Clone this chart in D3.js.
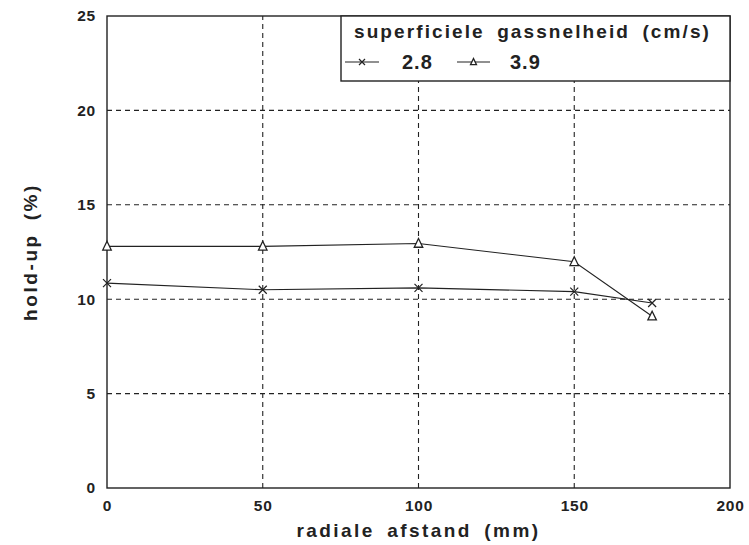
<!DOCTYPE html>
<html>
<head>
<meta charset="utf-8">
<script src="https://cdn.jsdelivr.net/npm/d3@7"></script>
<style>
  html, body { margin: 0; padding: 0; background: #fff; }
  text { font-family: "Liberation Sans", Arial, sans-serif; font-weight: bold; fill: #222; }
</style>
</head>
<body>
<svg id="chart" width="749" height="545"></svg>
<script>
// Radial positions (mm)
const radialPositions = [0, 50, 100, 150, 175];
// Hold-up (%) per superficial gas velocity
const holdup28 = [10.85, 10.5, 10.6, 10.4, 9.8];
const holdup39 = [12.8, 12.8, 12.95, 11.98, 9.1];
const seriesNames = ["2.8", "3.9"];
const xTicks = [0, 50, 100, 150, 200];
const yTicks = [0, 5, 10, 15, 20, 25];

const svg = d3.select("#chart");
const margin = { left: 107, right: 19, top: 16, bottom: 57 };
const W = 749, H = 545;

const x = d3.scaleLinear().domain([0, 200]).range([margin.left, W - margin.right]);
const y = d3.scaleLinear().domain([0, 25]).range([H - margin.bottom, margin.top]);

const ink = "#222";

// dashed grid
svg.append("g").selectAll("line.gx")
  .data(xTicks.filter(d => d > 0 && d < 200))
  .join("line")
  .attr("x1", d => x(d)).attr("x2", d => x(d))
  .attr("y1", y(0)).attr("y2", y(25))
  .attr("stroke", ink).attr("stroke-width", 1.1).attr("stroke-dasharray", "5,4");
svg.append("g").selectAll("line.gy")
  .data(yTicks.filter(d => d > 0 && d < 25))
  .join("line")
  .attr("x1", x(0)).attr("x2", x(200))
  .attr("y1", d => y(d)).attr("y2", d => y(d))
  .attr("stroke", ink).attr("stroke-width", 1.1).attr("stroke-dasharray", "5,4");

function styleTicks(sel) {
  sel.selectAll("text")
    .style("font-size", "15.5px")
    .style("font-family", "Liberation Sans, Arial, sans-serif")
    .style("font-weight", "bold")
    .style("letter-spacing", "0.8px")
    .attr("fill", ink);
}

// axes (labels only, frame drawn separately)
const xAxis = svg.append("g")
  .attr("transform", `translate(0,${y(0)})`)
  .call(d3.axisBottom(x).tickValues(xTicks).tickSize(0).tickPadding(12));
xAxis.select(".domain").remove();
styleTicks(xAxis);

const yAxis = svg.append("g")
  .attr("transform", `translate(${x(0)},0)`)
  .call(d3.axisLeft(y).tickValues(yTicks).tickSize(0).tickPadding(11));
yAxis.select(".domain").remove();
styleTicks(yAxis);

// plot frame
svg.append("rect")
  .attr("x", x(0)).attr("y", y(25))
  .attr("width", x(200) - x(0)).attr("height", y(0) - y(25))
  .attr("fill", "none").attr("stroke", ink).attr("stroke-width", 1.4);

// series lines
const line = d3.line().x(d => x(d[0])).y(d => y(d[1]));
const pts28 = radialPositions.map((r, i) => [r, holdup28[i]]);
const pts39 = radialPositions.map((r, i) => [r, holdup39[i]]);

svg.append("path").datum(pts28).attr("d", line)
  .attr("fill", "none").attr("stroke", ink).attr("stroke-width", 1.1);
svg.append("path").datum(pts39).attr("d", line)
  .attr("fill", "none").attr("stroke", ink).attr("stroke-width", 1.1);

// markers
function cross(g, cx, cy, s) {
  g.append("path")
    .attr("d", `M${cx - s},${cy - s}L${cx + s},${cy + s}M${cx - s},${cy + s}L${cx + s},${cy - s}`)
    .attr("stroke", ink).attr("stroke-width", 1.2).attr("fill", "none");
}
function tri(g, cx, cy, s) {
  g.append("path")
    .attr("d", `M${cx},${cy - s}L${cx + s * 0.85},${cy + s * 0.75}L${cx - s * 0.85},${cy + s * 0.75}Z`)
    .attr("stroke", ink).attr("stroke-width", 1.3).attr("fill", "#fff");
}
const mk = svg.append("g");
pts28.forEach(p => cross(mk, x(p[0]), y(p[1]), 4));
pts39.forEach(p => tri(mk, x(p[0]), y(p[1]), 5));

// legend
const lg = svg.append("g");
const lx = 341, ly = y(25), lw = x(200) - 341, lh = 65;
lg.append("rect").attr("x", lx).attr("y", ly).attr("width", lw).attr("height", lh)
  .attr("fill", "#fff").attr("stroke", ink).attr("stroke-width", 1.4);
lg.append("text").attr("x", lx + lw / 2 - 3).attr("y", ly + 22)
  .attr("text-anchor", "middle").style("font-size", "19px")
  .style("letter-spacing", "2.1px").style("word-spacing", "5px")
  .text("superficiele gassnelheid (cm/s)");

const rowY = ly + 46;
// 2.8 entry
lg.append("line").attr("x1", lx + 4).attr("x2", lx + 38).attr("y1", rowY).attr("y2", rowY)
  .attr("stroke", ink).attr("stroke-width", 1.1);
cross(lg, lx + 21, rowY, 3);
lg.append("text").attr("x", lx + 61).attr("y", rowY + 7).style("font-size", "20px")
  .style("letter-spacing", "1px")
  .text(seriesNames[0]);
// 3.9 entry
lg.append("line").attr("x1", lx + 116).attr("x2", lx + 149).attr("y1", rowY).attr("y2", rowY)
  .attr("stroke", ink).attr("stroke-width", 1.1);
tri(lg, lx + 132.5, rowY, 3.5);
lg.append("text").attr("x", lx + 169).attr("y", rowY + 7).style("font-size", "20px")
  .style("letter-spacing", "1px")
  .text(seriesNames[1]);

// axis titles
svg.append("text").attr("x", x(100)).attr("y", 537)
  .attr("text-anchor", "middle").style("font-size", "19px")
  .style("letter-spacing", "2.4px").style("word-spacing", "5px")
  .text("radiale afstand (mm)");
svg.append("text")
  .attr("transform", `translate(37,${(y(0) + y(25)) / 2}) rotate(-90)`)
  .attr("text-anchor", "middle").style("font-size", "19px")
  .style("letter-spacing", "2.6px").style("word-spacing", "5px")
  .text("hold-up (%)");
</script>
</body>
</html>
